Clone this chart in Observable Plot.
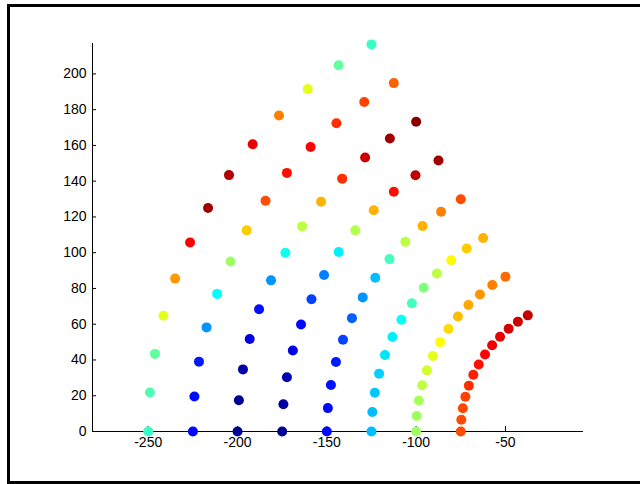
<!DOCTYPE html>
<html>
<head>
<meta charset="utf-8">
<script src="https://cdn.jsdelivr.net/npm/d3@7"></script>
<script src="https://cdn.jsdelivr.net/npm/@observablehq/plot@0.6"></script>
<style>
  html, body { margin: 0; padding: 0; background: #fff; overflow: hidden; }
  #wrap { position: relative; width: 640px; height: 484px; }
  #wrap svg { position: absolute; left: 0; top: 0; }
  #frame { position: absolute; left: 7px; top: 4px; width: 700px; height: 480px;
           border: 3px solid #000; box-sizing: border-box; pointer-events: none; }
</style>
</head>
<body>
<div id="wrap"><div id="frame"></div></div>
<script>
// Arc radii and angles (degrees) of the point grid
const radii = [75, 100, 125, 150, 175, 200, 225, 250];
const anglesDeg = [180, 175, 170, 165, 160, 155, 150, 145, 140, 135, 130, 125, 120];

// Colour values (0..1 on the jet colormap), one array per arc, ordered by angle above
const c075 = [0.80, 0.80, 0.805, 0.81, 0.83, 0.845, 0.86, 0.875, 0.89, 0.90, 0.915, 0.925, 0.93];
const c100 = [0.53, 0.53, 0.54, 0.56, 0.58, 0.60, 0.625, 0.66, 0.69, 0.71, 0.73, 0.75, 0.77];
const c125 = [0.31, 0.31, 0.32, 0.33, 0.35, 0.36, 0.38, 0.44, 0.50, 0.56, 0.63, 0.675, 0.70];
const c150 = [0.13, 0.135, 0.14, 0.15, 0.19, 0.22, 0.27, 0.31, 0.44, 0.56, 0.70, 0.75, 0.80];
const c175 = [0.02, 0.03, 0.05, 0.10, 0.13, 0.19, 0.25, 0.36, 0.55, 0.70, 0.86, 0.94, 0.97];
const c200 = [0.02, 0.02, 0.04, 0.10, 0.14, 0.27, 0.39, 0.56, 0.70, 0.83, 0.925, 0.97, 0.99];
const c225 = [0.13, 0.135, 0.15, 0.27, 0.375, 0.53, 0.675, 0.80, 0.86, 0.875, 0.83, 0.81, 0.78];
const c250 = [0.43, 0.45, 0.47, 0.60, 0.725, 0.875, 0.97, 0.95, 0.90, 0.75, 0.60, 0.47, 0.43];
const colourRows = [c075, c100, c125, c150, c175, c200, c225, c250];

// Axis ticks
const xTicks = [-250, -200, -150, -100, -50];
const yTicks = [0, 20, 40, 60, 80, 100, 120, 140, 160, 180, 200];
const xDomain = [-281.2, -6.3];
const yDomain = [0, 217];

// Jet colormap anchors
const jetStops = [0, 0.125, 0.375, 0.625, 0.875, 1];
const jetColors = ["#000080", "#0000ff", "#00ffff", "#ffff00", "#ff0000", "#800000"];

const points = [];
radii.forEach((r, i) => {
  anglesDeg.forEach((a, j) => {
    const t = a * Math.PI / 180;
    points.push({x: r * Math.cos(t), y: r * Math.sin(t), c: colourRows[i][j]});
  });
});

const W = 640, H = 484, mL = 92, mR = 57, mT = 43, mB = 53;
const pxX = (W - mL - mR) / (xDomain[1] - xDomain[0]);
const pxY = (H - mT - mB) / (yDomain[1] - yDomain[0]);

const chart = Plot.plot({
  width: W, height: H,
  marginLeft: mL, marginRight: mR, marginTop: mT, marginBottom: mB,
  style: {fontFamily: "'Liberation Sans', Arial, Helvetica, sans-serif", fontSize: "14px", color: "#000", background: "transparent"},
  x: {domain: xDomain, label: null},
  y: {domain: yDomain, label: null},
  color: {type: "linear", domain: jetStops, range: jetColors, interpolate: "rgb"},
  marks: [
    Plot.axisX(xTicks, {tickSize: 0, tickPadding: 6, fontSize: 14, tickFormat: d => String(d), label: null}),
    Plot.axisY(yTicks, {tickSize: 0, tickPadding: 6, fontSize: 14, tickFormat: d => String(d), label: null}),
    Plot.ruleY([yDomain[0]], {stroke: "#000", strokeWidth: 1}),
    Plot.ruleX([xDomain[0]], {stroke: "#000", strokeWidth: 1}),
    Plot.ruleX(xTicks, {y1: yDomain[0], y2: yDomain[0] + 5 / pxY, stroke: "#000"}),
    Plot.ruleY(yTicks, {x1: xDomain[0], x2: xDomain[0] + 4 / pxX, stroke: "#000"}),
    Plot.dot(points, {x: "x", y: "y", fill: "c", r: 5, stroke: null})
  ]
});
document.getElementById("wrap").prepend(chart);
</script>
</body>
</html>
